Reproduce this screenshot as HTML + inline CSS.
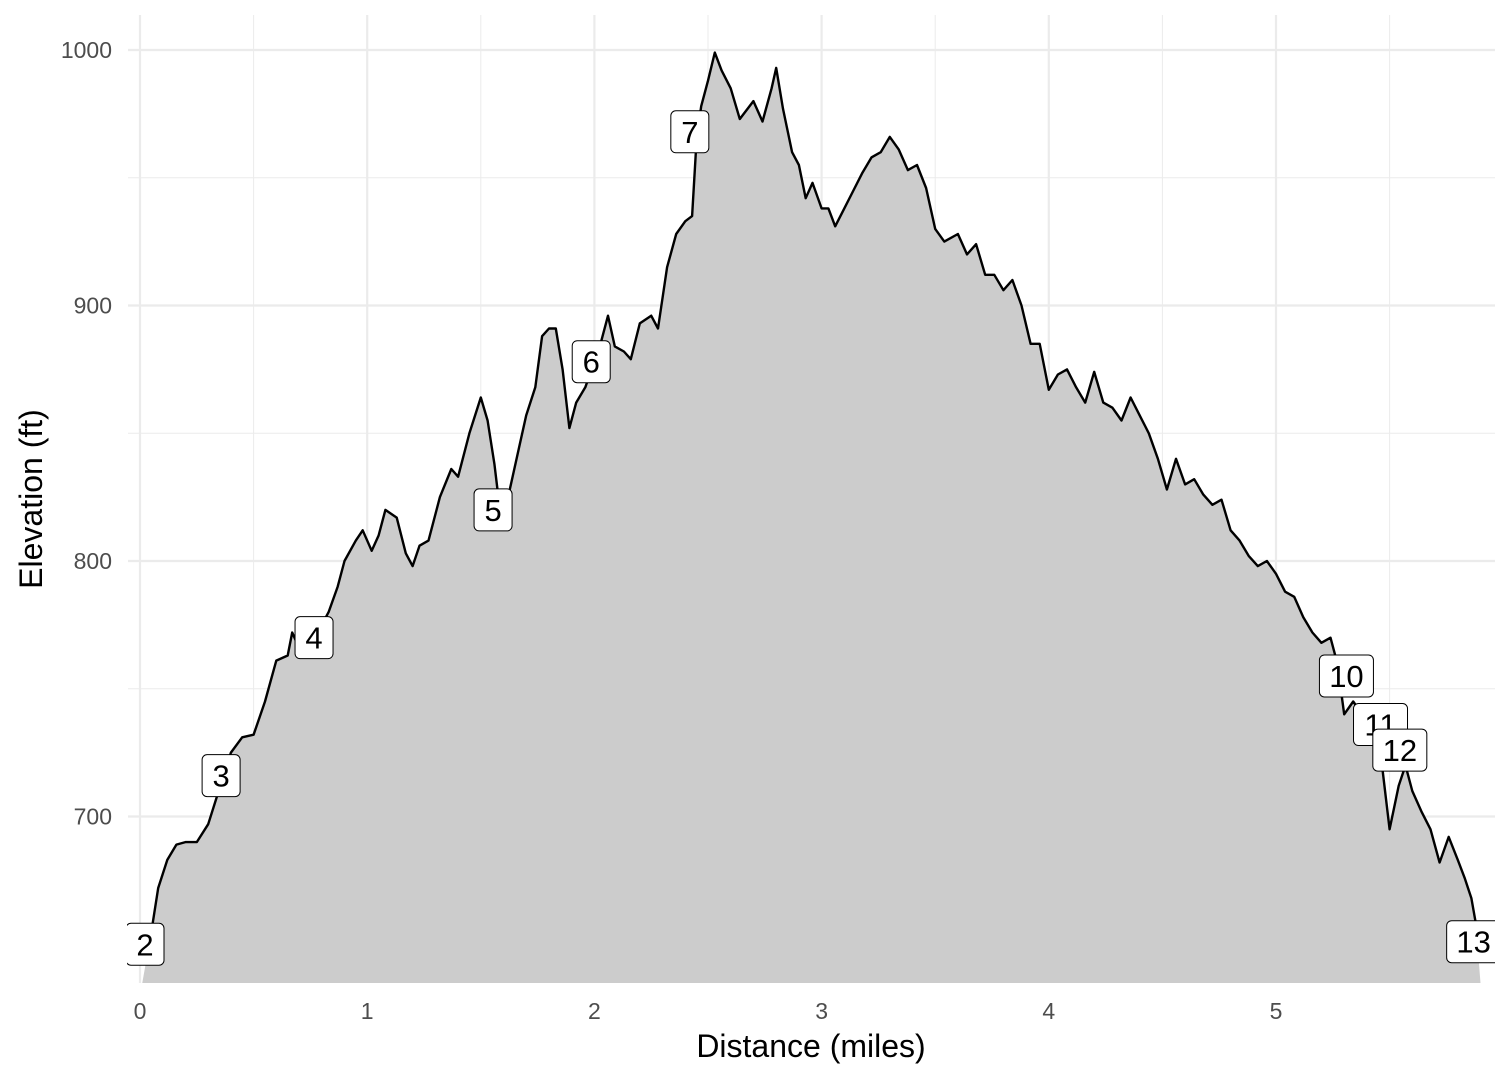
<!DOCTYPE html>
<html><head><meta charset="utf-8"><style>
html,body{margin:0;padding:0;background:#fff;}
svg{display:block;font-family:"Liberation Sans",Arial,sans-serif;}
</style></head><body>
<svg id="chart" width="1512" height="1080" viewBox="0 0 1512 1080"><defs><clipPath id="pc"><rect x="127" y="0" width="1368" height="1000"/></clipPath></defs></svg>
<script>
const miles=[0.05,0.08,0.12,0.16,0.2,0.25,0.3,0.35,0.4,0.45,0.5,0.55,0.6,0.65,0.67,0.7,0.75,0.8,0.83,0.87,0.9,0.95,0.98,1.02,1.05,1.08,1.13,1.17,1.2,1.23,1.27,1.32,1.37,1.4,1.45,1.5,1.53,1.56,1.58,1.62,1.67,1.7,1.74,1.77,1.8,1.83,1.86,1.89,1.92,1.96,2.0,2.03,2.06,2.09,2.13,2.16,2.2,2.25,2.28,2.32,2.36,2.4,2.43,2.45,2.47,2.5,2.53,2.56,2.6,2.64,2.7,2.74,2.78,2.8,2.83,2.87,2.9,2.93,2.96,3.0,3.03,3.06,3.1,3.14,3.18,3.22,3.26,3.3,3.34,3.38,3.42,3.46,3.5,3.54,3.6,3.64,3.68,3.72,3.76,3.8,3.84,3.88,3.92,3.96,4.0,4.04,4.08,4.12,4.16,4.2,4.24,4.28,4.32,4.36,4.4,4.44,4.48,4.52,4.56,4.6,4.64,4.68,4.72,4.76,4.8,4.84,4.88,4.92,4.96,5.0,5.04,5.08,5.12,5.16,5.2,5.24,5.27,5.3,5.34,5.38,5.42,5.46,5.5,5.54,5.57,5.6,5.64,5.68,5.72,5.76,5.8,5.83,5.86,5.88];
const elevation=[655,672,683,689,690,690,697,711,725,731,732,745,761,763,772,766,770,775,780,790,800,808,812,804,810,820,817,803,798,806,808,825,836,833,850,864,855,838,823,825,845,857,868,888,891,891,875,852,862,868,878,886,896,884,882,879,893,896,891,915,928,933,935,965,978,988,999,992,985,973,980,972,985,993,977,960,955,942,948,938,938,931,938,945,952,958,960,966,961,953,955,946,930,925,928,920,924,912,912,906,910,900,885,885,867,873,875,868,862,874,862,860,855,864,857,850,840,828,840,830,832,826,822,824,812,808,802,798,800,795,788,786,778,772,768,770,760,740,745,740,735,725,695,712,720,710,702,695,682,692,683,676,668,658];
const labelText=["2","3","4","5","6","7","10","11","12","13"];
const labelMile=[0.022,0.357,0.766,1.554,1.986,2.42,5.31,5.46,5.545,5.87];
const labelElev=[650,716,770,820,878,968,755,736,726,651];
const xTicks=[0,1,2,3,4,5];
const yTicks=[700,800,900,1000];
const xMinor=[0.5,1.5,2.5,3.5,4.5,5.5];
const yMinor=[650,750,850,950];

const svg=document.getElementById('chart');
const NS='http://www.w3.org/2000/svg';
const X=m=>140+m*227.2;
const Y=e=>50+(1000-e)*2.555;
const PL=128,PR=1495,PT=15,PB=983;
function mk(t,a,p){const e=document.createElementNS(NS,t);for(const k in a)e.setAttribute(k,a[k]);(p||svg).appendChild(e);return e;}

xMinor.forEach(v=>{const l=mk('line',{x1:X(v),x2:X(v),y1:PT,y2:PB,stroke:'#ebebeb','stroke-width':1});

});
yMinor.forEach(v=>{const l=mk('line',{x1:PL,x2:PR,y1:Y(v),y2:Y(v),stroke:'#ebebeb','stroke-width':1});

});
xTicks.forEach(v=>{const l=mk('line',{x1:X(v),x2:X(v),y1:PT,y2:PB,stroke:'#ebebeb','stroke-width':2.2});


const t=mk('text',{x:X(v),y:1019,'text-anchor':'middle','font-size':23,fill:'#4d4d4d'});t.textContent=v;

});
yTicks.forEach(v=>{const l=mk('line',{x1:PL,x2:PR,y1:Y(v),y2:Y(v),stroke:'#ebebeb','stroke-width':2.2});


const t=mk('text',{x:112,y:Y(v)+8,'text-anchor':'end','font-size':23,fill:'#4d4d4d'});t.textContent=v;

});

let pts=miles.map((m,i)=>X(m).toFixed(1)+','+Y(elevation[i]).toFixed(1));
const area=mk('polygon',{points:X(0.01)+','+PB+' '+pts.join(' ')+' '+X(5.9)+','+PB,fill:'#cccccc'});


const line=mk('polyline',{points:pts.join(' '),fill:'none',stroke:'#000','stroke-width':2.4,'stroke-linejoin':'round'});



const lg=mk('g',{'clip-path':'url(#pc)'});


labelText.forEach((s,i)=>{const cx=X(labelMile[i]),cy=Y(labelElev[i]);
const w=s.length>1?54:38;
const r=mk('rect',{x:cx-w/2,y:cy-21,width:w,height:42,rx:5,fill:'#fff',stroke:'#000','stroke-width':1},lg);


const t=mk('text',{x:cx,y:cy+11,'text-anchor':'middle','font-size':31,fill:'#000'},lg);t.textContent=s;

});

const xt=mk('text',{x:811,y:1057,'text-anchor':'middle','font-size':32,fill:'#000'});xt.textContent='Distance (miles)';


const yt=mk('text',{x:0,y:0,'text-anchor':'middle','font-size':32,fill:'#000',transform:'translate(42,499) rotate(-90)'});yt.textContent='Elevation (ft)';


</script>
</body></html>
